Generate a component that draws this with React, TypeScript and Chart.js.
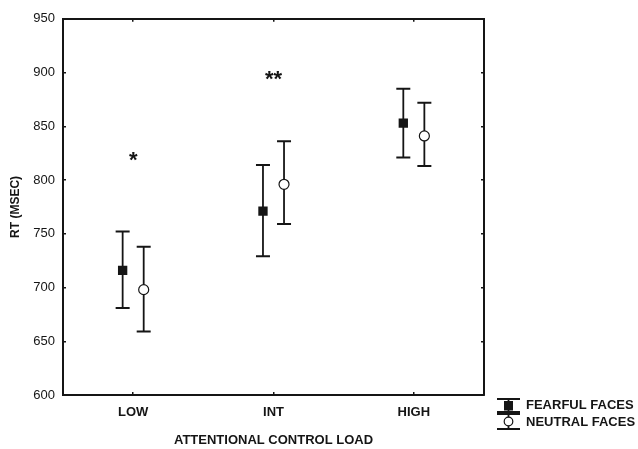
import { useEffect, useRef } from "react";
import { Chart, registerables } from "chart.js";

Chart.register(...registerables);

const categories = ["LOW", "INT", "HIGH"];
const seriesNames = ["FEARFUL FACES", "NEUTRAL FACES"];
const fearfulMean = [716, 771, 853];
const fearfulUpper = [752, 814, 885];
const fearfulLower = [681, 729, 821];
const neutralMean = [698, 796, 841];
const neutralUpper = [738, 836, 872];
const neutralLower = [659, 759, 813];
const sigLabels = ["*", "**", ""];
const sigValues = [816, 891, 0];
const yMin = 600;
const yMax = 950;
const yStep = 50;
const xTitle = "ATTENTIONAL CONTROL LOAD";
const yTitle = "RT (MSEC)";

const FONT = "'Liberation Sans', Arial, Helvetica, sans-serif";
const INK = "#151515";
const OFFSET = 0.075;

const upper = [fearfulUpper, neutralUpper];
const lower = [fearfulLower, neutralLower];

const errorBarPlugin = {
  id: "errorBars",
  beforeDatasetsDraw(chart: any) {
    const ctx = chart.ctx;
    const y = chart.scales.y;
    ctx.save();
    ctx.strokeStyle = INK;
    chart.data.datasets.forEach((_: any, di: number) => {
      const meta = chart.getDatasetMeta(di);
      meta.data.forEach((pt: any, j: number) => {
        const px = pt.x;
        const yt = y.getPixelForValue(upper[di][j]);
        const yb = y.getPixelForValue(lower[di][j]);
        ctx.lineWidth = 1.8;
        ctx.beginPath();
        ctx.moveTo(px, yt);
        ctx.lineTo(px, yb);
        ctx.stroke();
        ctx.lineWidth = 2;
        ctx.beginPath();
        ctx.moveTo(px - 7, yt);
        ctx.lineTo(px + 7, yt);
        ctx.moveTo(px - 7, yb);
        ctx.lineTo(px + 7, yb);
        ctx.stroke();
      });
    });
    ctx.restore();
  },
};

const sigPlugin = {
  id: "sigMarks",
  afterDatasetsDraw(chart: any) {
    const ctx = chart.ctx;
    const x = chart.scales.x;
    const y = chart.scales.y;
    ctx.save();
    ctx.fillStyle = INK;
    ctx.font = `bold 22px ${FONT}`;
    ctx.textAlign = "center";
    ctx.textBaseline = "alphabetic";
    sigLabels.forEach((s, i) => {
      if (!s) return;
      const px = x.getPixelForValue(i);
      const py = y.getPixelForValue(sigValues[i]);
      ctx.fillText(s, px, py + 4);
    });
    ctx.restore();
  },
};

const legendPlugin = {
  id: "customLegend",
  afterDraw(chart: any) {
    const ctx = chart.ctx;
    const area = chart.chartArea;
    const cx = area.right + 24.5;
    const x0 = cx - 11.5;
    const x1 = cx + 11.5;
    const top = area.bottom + 4;
    ctx.save();
    ctx.strokeStyle = INK;
    ctx.fillStyle = INK;
    // fearful icon
    ctx.lineWidth = 1.8;
    ctx.beginPath();
    ctx.moveTo(cx, top);
    ctx.lineTo(cx, top + 13);
    ctx.stroke();
    ctx.lineWidth = 2;
    ctx.beginPath();
    ctx.moveTo(x0, top);
    ctx.lineTo(x1, top);
    ctx.moveTo(x0, top + 13);
    ctx.lineTo(x1, top + 13);
    ctx.stroke();
    ctx.fillRect(cx - 4.5, top + 2, 9, 9.5);
    // neutral icon
    const t2 = top + 15;
    ctx.lineWidth = 1.8;
    ctx.beginPath();
    ctx.moveTo(cx, t2);
    ctx.lineTo(cx, t2 + 15);
    ctx.stroke();
    ctx.lineWidth = 2;
    ctx.beginPath();
    ctx.moveTo(x0, t2);
    ctx.lineTo(x1, t2);
    ctx.moveTo(x0, t2 + 15);
    ctx.lineTo(x1, t2 + 15);
    ctx.stroke();
    ctx.beginPath();
    ctx.arc(cx, t2 + 7.5, 4.3, 0, Math.PI * 2);
    ctx.fillStyle = "#fff";
    ctx.fill();
    ctx.lineWidth = 1.2;
    ctx.stroke();
    // texts
    ctx.fillStyle = INK;
    ctx.font = `bold 13px ${FONT}`;
    ctx.textAlign = "left";
    ctx.textBaseline = "middle";
    ctx.fillText(chart.data.datasets[0].label, x1 + 6, top + 6.5);
    ctx.fillText(chart.data.datasets[1].label, x1 + 6, t2 + 8);
    ctx.restore();
  },
};

export default function App() {
  const ref = useRef<HTMLCanvasElement | null>(null);
  useEffect(() => {
    if (!ref.current) return;
    const gridOpts = {
      drawOnChartArea: false,
      drawTicks: true,
      tickLength: -3,
      color: INK,
      lineWidth: 1.5,
    };
    const borderOpts = { display: true, width: 2, color: INK };
    const catTicks = (s: any) => {
      s.ticks = categories.map((_, i) => ({ value: i }));
    };
    const chart = new Chart(ref.current, {
      type: "scatter",
      data: {
        datasets: [
          {
            label: seriesNames[0],
            data: fearfulMean.map((v, i) => ({ x: i - OFFSET, y: v })),
            pointStyle: "rect",
            pointRadius: 6.6,
            pointHoverRadius: 6.6,
            backgroundColor: INK,
            borderColor: INK,
            borderWidth: 0,
          },
          {
            label: seriesNames[1],
            data: neutralMean.map((v, i) => ({ x: i + OFFSET, y: v })),
            pointStyle: "circle",
            pointRadius: 5,
            pointHoverRadius: 5,
            backgroundColor: "#ffffff",
            borderColor: INK,
            borderWidth: 1.2,
          },
        ],
      },
      options: {
        responsive: false,
        animation: false,
        devicePixelRatio: 1,
        layout: { padding: { left: 0, top: 0, right: 150, bottom: 0 } },
        plugins: {
          legend: { display: false },
          tooltip: { enabled: false },
        },
        events: [],
        scales: {
          x: {
            type: "linear",
            position: "bottom",
            min: -0.5,
            max: 2.5,
            afterBuildTicks: catTicks,
            afterFit: (s: any) => {
              s.height = 54;
            },
            grid: gridOpts,
            border: borderOpts,
            ticks: {
              padding: 13,
              color: INK,
              font: { family: FONT, size: 13, weight: "bold" },
              callback: (v: any) => categories[v] ?? "",
              maxRotation: 0,
            },
            title: {
              display: true,
              text: xTitle,
              color: INK,
              font: { family: FONT, size: 13, weight: "bold" },
              padding: { top: 0, bottom: 1 },
            },
          },
          x2: {
            type: "linear",
            position: "top",
            min: -0.5,
            max: 2.5,
            afterBuildTicks: catTicks,
            afterFit: (s: any) => {
              s.height = 8;
            },
            grid: gridOpts,
            border: borderOpts,
            ticks: { display: false },
          },
          y: {
            type: "linear",
            position: "left",
            min: yMin,
            max: yMax,
            afterFit: (s: any) => {
              s.width = 63;
            },
            grid: gridOpts,
            border: borderOpts,
            ticks: {
              stepSize: yStep,
              padding: 11,
              color: INK,
              font: { family: FONT, size: 13 },
            },
            title: {
              display: true,
              text: yTitle,
              color: INK,
              font: { family: FONT, size: 12, weight: "bold" },
              padding: { top: 8, bottom: 0 },
            },
          },
          y2: {
            type: "linear",
            position: "right",
            min: yMin,
            max: yMax,
            afterFit: (s: any) => {
              s.width = 4;
            },
            grid: gridOpts,
            border: borderOpts,
            ticks: { display: false, stepSize: yStep },
          },
        },
      } as any,
      plugins: [errorBarPlugin, sigPlugin, legendPlugin],
    });
    return () => chart.destroy();
  }, []);
  return (
    <div style={{ position: "absolute", left: 0, top: 0, width: 638, height: 449, background: "#fff" }}>
      <canvas ref={ref} width={638} height={449} style={{ display: "block" }} />
    </div>
  );
}
